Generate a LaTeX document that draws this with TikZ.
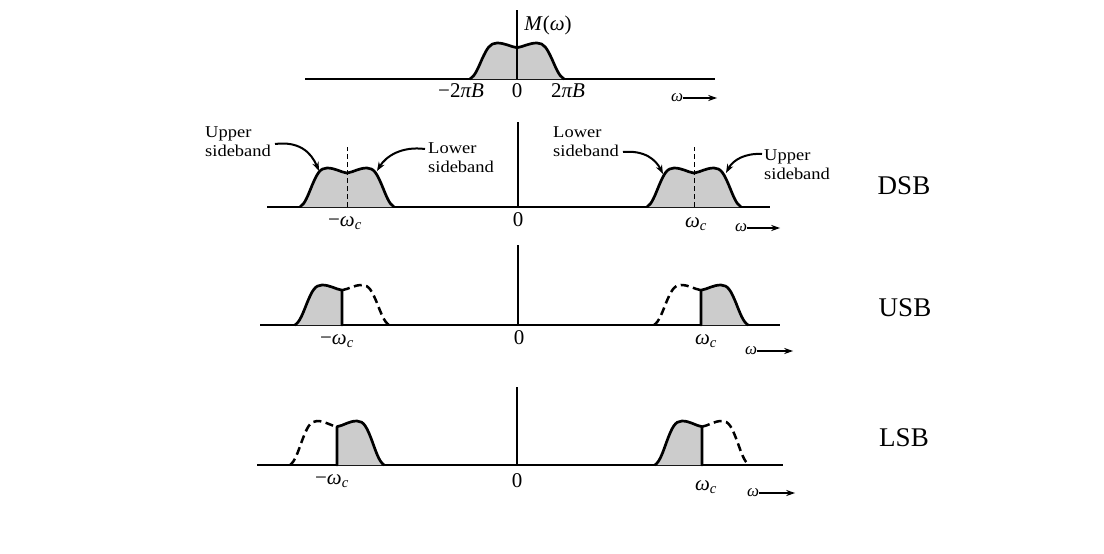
\documentclass[tikz,border=0pt]{standalone}
\usepackage{fontspec}
\setmainfont{Liberation Serif}
\usetikzlibrary{arrows.meta}

% left half of a band, from (-47,0) up to the centre dip
\newcommand\LHp[1]{.. controls (-42,-0.08*#1) and (-39,-0.3*#1) .. (-35,-0.55*#1) .. controls (-30,-0.85*#1) and (-27,-#1) .. (-20,-#1) .. controls (-12,-#1) and (-7,-0.9*#1) .. (0,-0.87*#1)}
% right half of a band, from the centre dip down to (47,0)
\newcommand\RHp[1]{.. controls (7,-0.9*#1) and (12,-#1) .. (20,-#1) .. controls (27,-#1) and (30,-0.85*#1) .. (35,-0.55*#1) .. controls (39,-0.3*#1) and (42,-0.08*#1) .. (47,0)}

\begin{document}
\begin{tikzpicture}[x=1pt,y=-1pt,
  band/.style={fill=black!20},
  outline/.style={line width=2.7pt, line join=round, line cap=round},
  dashedline/.style={line width=2.5pt, dash pattern=on 8pt off 4.5pt},
  axisline/.style={line width=1.4pt},
  baseaxis/.style={line width=2pt},
  centreline/.style={line width=1pt, dash pattern=on 5pt off 3pt},
  lbl/.style={font=\fontsize{16.5}{19.5}\selectfont, align=left, inner sep=0pt, anchor=north west, xscale=1.12},
  mlbl/.style={font=\fontsize{21}{23}\selectfont, inner sep=0pt},
  wlbl/.style={font=\fontsize{17}{19}\selectfont, inner sep=0pt},
  big/.style={font=\fontsize{27}{29}\selectfont, inner sep=0pt},
  pointer/.style={line width=2pt, -{Stealth[length=9pt,width=6.5pt]}},
  warrow/.style={line width=1.5pt, -{Stealth[length=9pt,width=6pt]}},
]
\useasboundingbox[fill=white] (0,0) rectangle (1104,554);

% ---------------- top: M(omega)
\draw[baseaxis] (305,79) -- (715,79);
\begin{scope}[shift={(517,79)}]
  \fill[band] (-47,0) \LHp{36} \RHp{36} -- cycle;
  \draw[outline] (-47,0) \LHp{36} \RHp{36};
\end{scope}
\draw[axisline] (517,10) -- (517,79);
\node[mlbl] (M) at (548,25) {\textit{M}(\textit{ω})};
\node[mlbl] (m2pb) at (461,91) {−2\textit{πB}};
\node[mlbl] (z0) at (517,91) {0};
\node[mlbl] (p2pb) at (568,91) {2\textit{πB}};
\node[wlbl] (w0) at (677,98) {\textit{ω}};
\path (w0.east) ++(34,0) coordinate (w0e);
\draw[warrow] (w0) -- (w0e);

% ---------------- DSB
\draw[baseaxis] (267,207) -- (770,207);
\begin{scope}[shift={(347,207)}]
  \fill[band] (-47,0) \LHp{39} \RHp{39} -- cycle;
  \draw[outline] (-47,0) \LHp{39} \RHp{39};
  \draw[centreline] (0,0) -- (0,-60);
\end{scope}
\begin{scope}[shift={(694,207)}]
  \fill[band] (-47,0) \LHp{39} \RHp{39} -- cycle;
  \draw[outline] (-47,0) \LHp{39} \RHp{39};
  \draw[centreline] (0,0) -- (0,-60);
\end{scope}
\draw[axisline] (518,122) -- (518,207);
\node[mlbl] (dm) at (345,223) {−\textit{ω}\textsubscript{\textit{c}}};
\node[mlbl] (dz) at (518,220) {0};
\node[mlbl] (dp) at (696,224) {\textit{ω}\textsubscript{\textit{c}}};
\node[wlbl] (w1) at (741,228) {\textit{ω}};
\path (w1.east) ++(33,0) coordinate (w1e);
\draw[warrow] (w1) -- (w1e);
\node[big] (dsb) at (904,186) {DSB};

\node[lbl] (ul) at (205,126) {Upper\\sideband};
\node[lbl] (ll) at (428,142) {Lower\\sideband};
\node[lbl] (rl) at (553,126) {Lower\\sideband};
\node[lbl] (ru) at (764,149) {Upper\\sideband};
\coordinate (s1) at (275,144); \coordinate (t1) at (319,171);
\coordinate (s2) at (425,149); \coordinate (t2) at (377,171);
\coordinate (s3) at (623,152); \coordinate (t3) at (663,174);
\coordinate (s4) at (762,154); \coordinate (t4) at (726,173);
\draw[pointer] (s1) .. controls (299,141) and (311,152) .. (t1);
\draw[pointer] (s2) .. controls (402,146) and (386,156) .. (t2);
\draw[pointer] (s3) .. controls (645,150) and (656,160) .. (t3);
\draw[pointer] (s4) .. controls (745,153) and (733,160) .. (t4);

% ---------------- USB
\draw[baseaxis] (260,325) -- (780,325);
\begin{scope}[shift={(342,325)}]
  \fill[band] (-47,0) \LHp{40} -- (0,0) -- cycle;
  \draw[outline] (-47,0) \LHp{40} -- (0,0);
  \draw[dashedline] (0,-0.87*40) \RHp{40};
\end{scope}
\begin{scope}[shift={(701,325)}]
  \draw[dashedline] (-47,0) \LHp{40};
  \fill[band] (0,0) -- (0,-0.87*40) \RHp{40} -- cycle;
  \draw[outline] (0,0) -- (0,-0.87*40) \RHp{40};
\end{scope}
\draw[axisline] (518,245) -- (518,325);
\node[mlbl] (um) at (337,341) {−\textit{ω}\textsubscript{\textit{c}}};
\node[mlbl] (uz) at (519,338) {0};
\node[mlbl] (up) at (706,341) {\textit{ω}\textsubscript{\textit{c}}};
\node[wlbl] (w2) at (751,351) {\textit{ω}};
\path (w2.east) ++(36,0) coordinate (w2e);
\draw[warrow] (w2) -- (w2e);
\node[big] (usb) at (905,308) {USB};

% ---------------- LSB
\draw[baseaxis] (257,465) -- (783,465);
\begin{scope}[shift={(337,465)}]
  \draw[dashedline] (-47,0) \LHp{44};
  \fill[band] (0,0) -- (0,-0.87*44) \RHp{44} -- cycle;
  \draw[outline] (0,0) -- (0,-0.87*44) \RHp{44};
\end{scope}
\begin{scope}[shift={(702,465)}]
  \fill[band] (-47,0) \LHp{44} -- (0,0) -- cycle;
  \draw[outline] (-47,0) \LHp{44} -- (0,0);
  \draw[dashedline] (0,-0.87*44) \RHp{44};
\end{scope}
\draw[axisline] (517,387) -- (517,465);
\node[mlbl] (lm) at (332,481) {−\textit{ω}\textsubscript{\textit{c}}};
\node[mlbl] (lz) at (517,481) {0};
\node[mlbl] (lp) at (706,487) {\textit{ω}\textsubscript{\textit{c}}};
\node[wlbl] (w3) at (753,493) {\textit{ω}};
\path (w3.east) ++(36,0) coordinate (w3e);
\draw[warrow] (w3) -- (w3e);
\node[big] (lsb) at (904,438) {LSB};
\end{tikzpicture}
\end{document}
